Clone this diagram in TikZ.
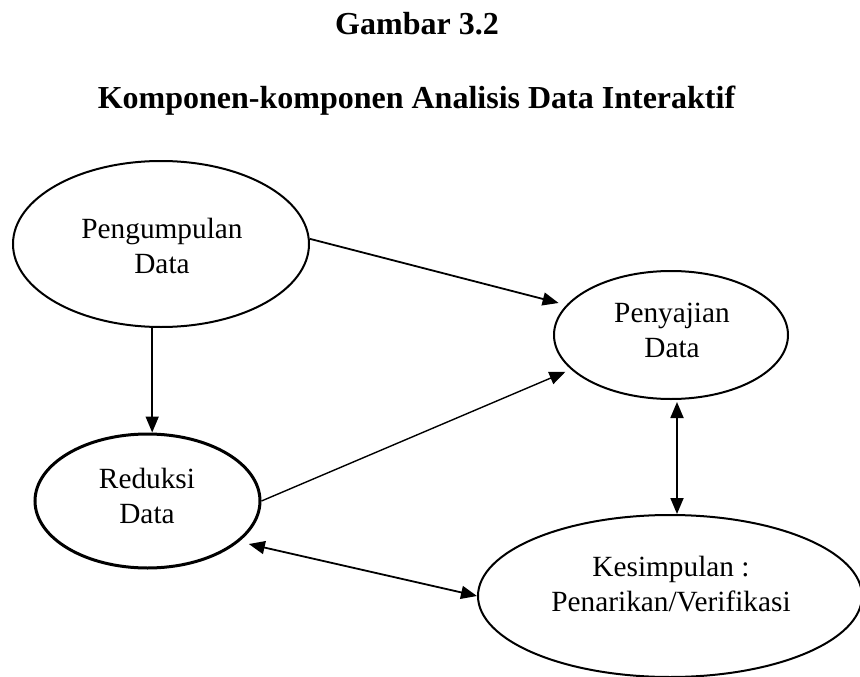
\documentclass[tikz,border=0pt]{standalone}
\usepackage{fontspec}
\setmainfont{Liberation Serif}
\usetikzlibrary{shapes.geometric,arrows.meta}
\tikzset{
  blob/.style={draw=black, ellipse, inner sep=0pt, line width=2pt},
  lbl/.style={align=center, inner sep=0pt, font=\fontsize{29.3}{35}\selectfont},
  ttl/.style={inner sep=0pt, anchor=base, font=\fontsize{32}{38}\selectfont\bfseries},
  conn/.style={line width=1.8pt, -{Triangle[length=16pt,width=13pt]}},
  dconn/.style={line width=1.8pt, {Triangle[length=16pt,width=13pt]}-{Triangle[length=16pt,width=13pt]}}
}
\begin{document}
\begin{tikzpicture}[x=1pt,y=-1pt]
\useasboundingbox (0,0) rectangle (860,677);
\node[ttl] (t1) at (417,35) {Gambar 3.2};
\node[ttl] (t2) at (416.5,108) {Komponen-komponen Analisis Data Interaktif};

\node[blob, minimum width=296pt, minimum height=166pt] (peng) at (161,244) {};
\node[blob, minimum width=234pt, minimum height=128pt] (peny) at (671,335) {};
\node[blob, line width=3pt, minimum width=225pt, minimum height=134pt] (red) at (147.5,501) {};
\node[blob, minimum width=384pt, minimum height=162pt] (kes) at (670,596) {};

\node[lbl] (pengT) at (162,245.5) {Pengumpulan\\Data};
\node[lbl] (penyT) at (672,330.5) {Penyajian\\Data};
\node[lbl] (redT) at (147,495.5) {Reduksi\\Data};
\node[lbl] (kesT) at (671,584.5) {Kesimpulan :\\Penarikan/Verifikasi};

\draw[conn] (peng.2) -- (peny.164) [shorten >=8pt];
\draw[conn] (peng.264) -- (peng.264 |- red.north);
\draw[conn, line width=1.4pt, shorten >=6pt] (red.east) -- (peny.199);
\draw[dconn, shorten <=2pt] ([xshift=6pt]peny.south) -- ([xshift=6pt]peny.south |- kes.north);
\draw[dconn, shorten <=10pt] (red.336) -- (kes.west);
\end{tikzpicture}
\end{document}
